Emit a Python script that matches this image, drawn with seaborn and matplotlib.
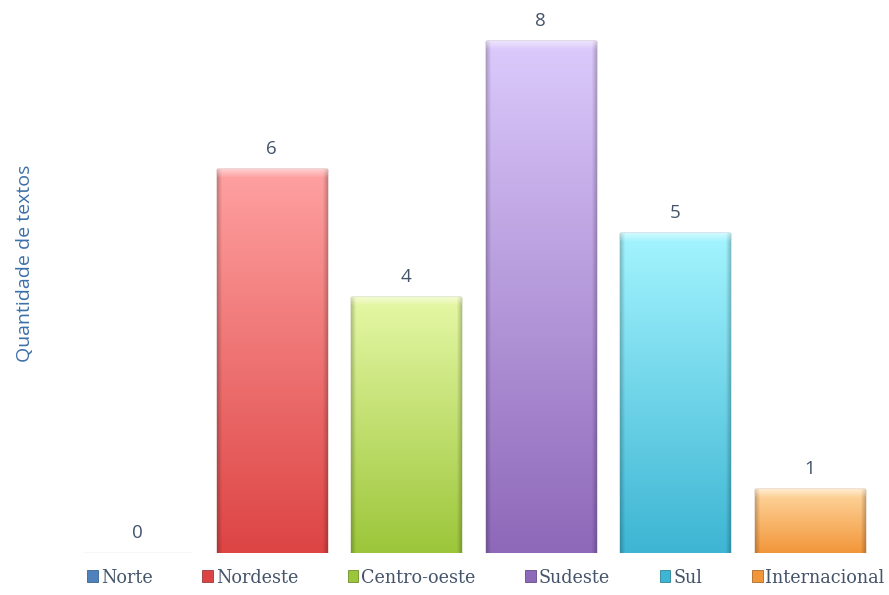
import seaborn as sns
import matplotlib.pyplot as plt
import matplotlib.colors as mcolors
from matplotlib.patches import Patch
import numpy as np

# data
regioes = ["Norte", "Nordeste", "Centro-oeste", "Sudeste", "Sul", "Internacional"]
quantidade = [0, 6, 4, 8, 5, 1]

# gradient colours (top, bottom) per bar
cor_topo = ["#a9c4ea", "#ffa1a1", "#e6f8a6", "#dccafc", "#a4f5ff", "#ffd9a2"]
cor_base = ["#4f81bd", "#dd4444", "#9cc63a", "#8e68b9", "#3db5d3", "#f2963a"]
cor_borda = ["#d8d8d8", "#9a3a3a", "#6f8f2c", "#634a86", "#2f8399", "#ad6a2a"]

sns.set_style("white")

fig = plt.figure(figsize=(8.89, 5.95), dpi=100)
ax = fig.add_axes([70 / 889, 1 - 553 / 595, 807 / 889, 553 / 595])

sns.barplot(x=regioes, y=quantidade, hue=regioes, palette=cor_base,
            width=0.82, legend=False, ax=ax, saturation=1)

px_y = 8.64 / 553   # data units per pixel (vertical)

for i, patch in enumerate(ax.patches):
    x0, y0 = patch.get_x(), patch.get_y()
    w, h = patch.get_width(), patch.get_height()
    patch.set_edgecolor(cor_borda[i])
    patch.set_linewidth(1.0)
    z = patch.get_zorder()
    if h > 0:
        cmap = mcolors.LinearSegmentedColormap.from_list(f"g{i}", [cor_base[i], cor_topo[i]])
        grad = np.linspace(0, 1, 256).reshape(-1, 1)
        im = ax.imshow(grad, cmap=cmap, origin="lower", aspect="auto",
                       extent=[x0, x0 + w, y0, y0 + h], zorder=z + 0.1)
        im.set_clip_path(patch)
        # bevel: darker sides, light strip at the top
        side = np.zeros((1, 200, 4))
        t = np.linspace(0, 1, 200)
        edge = np.clip(1 - np.minimum(t, 1 - t) / 0.045, 0, 1)
        side[..., 3] = 0.22 * edge
        im2 = ax.imshow(side, aspect="auto", extent=[x0, x0 + w, y0, y0 + h],
                        zorder=z + 0.2)
        im2.set_clip_path(patch)
        top = np.ones((40, 1, 4))
        top[:, 0, 3] = np.linspace(0, 0.5, 40)
        im3 = ax.imshow(top, aspect="auto", origin="lower",
                        extent=[x0, x0 + w, y0 + h - 9 * px_y, y0 + h], zorder=z + 0.3)
        im3.set_clip_path(patch)
    ax.annotate(str(quantidade[i]), (x0 + w / 2, y0 + h), xytext=(0, 8),
                textcoords="offset points", ha="center", va="bottom",
                fontsize=13.5, color="#44546a", family="Open Sans")

ax.set_xlim(-0.5, 5.5)
ax.set_ylim(0, 8.64)
ax.set_xticks([])
ax.set_yticks([])
ax.set_xlabel("")
ax.set_ylabel("")
sns.despine(ax=ax, left=True, bottom=True)

fig.text(25 / 889, 1 - 263 / 595, "Quantidade de textos", rotation=90,
         ha="center", va="center", fontsize=14, color="#3c6fa8", family="Open Sans")

handles = [Patch(facecolor=c, edgecolor=e, linewidth=0.6) for c, e in zip(cor_base, cor_borda)]
handles[0] = Patch(facecolor=cor_base[0], edgecolor="#3a6494", linewidth=0.6)
fig.legend(handles, regioes, loc="center", bbox_to_anchor=(486 / 889, 1 - 578 / 595),
           ncol=6, frameon=False, handlelength=0.55, handleheight=0.55,
           handletextpad=0.15, columnspacing=2.55,
           prop={"family": "DejaVu Serif", "stretch": "condensed", "size": 14},
           labelcolor="#44546a")

fig.savefig("out.png", dpi=100)
plt.close(fig)
